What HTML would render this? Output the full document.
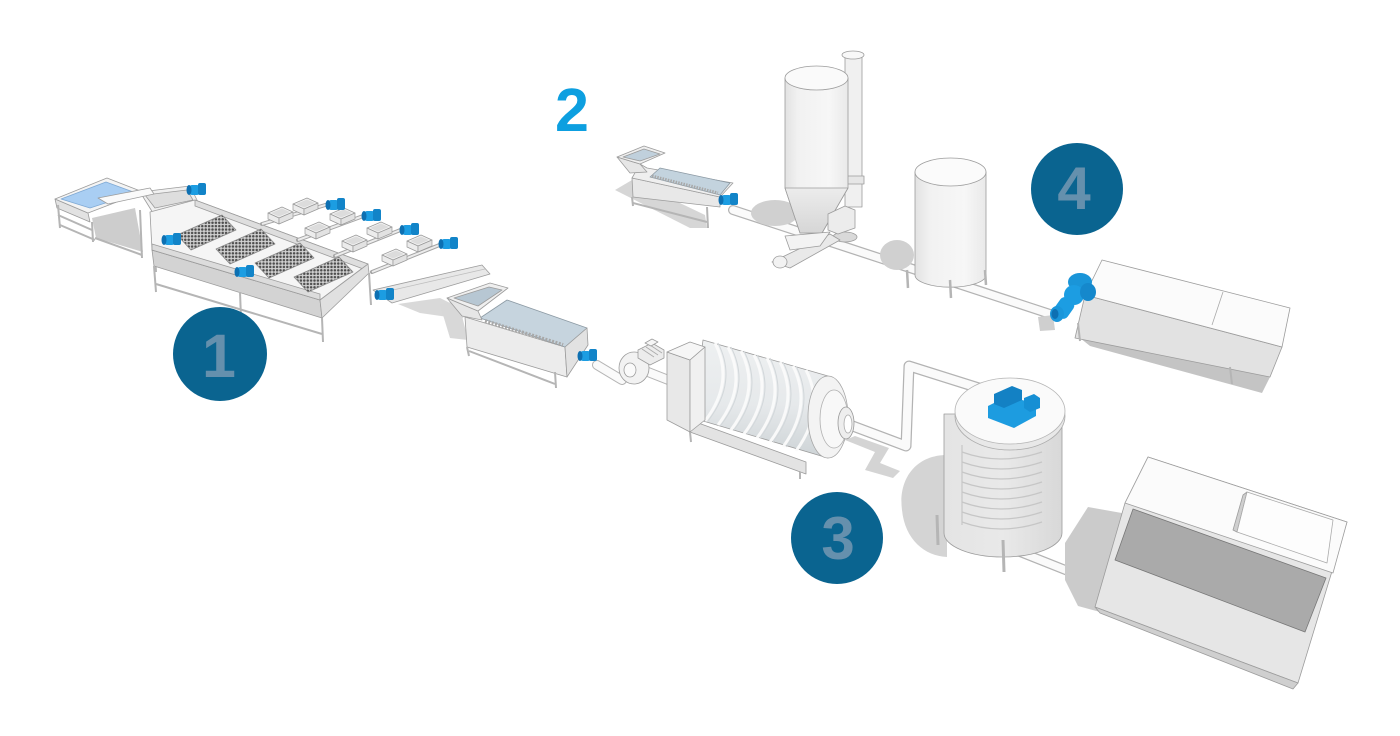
<!DOCTYPE html>
<html><head><meta charset="utf-8"><style>
html,body{margin:0;padding:0;background:#fff;}
svg{display:block;}
text{font-family:"Liberation Sans",sans-serif;font-weight:bold;}
</style></head><body>
<svg width="1400" height="736" viewBox="0 0 1400 736" xmlns="http://www.w3.org/2000/svg">
<defs>
<pattern id="dots" width="3.4" height="3.4" patternUnits="userSpaceOnUse"><rect width="3.4" height="3.4" fill="#d2d2d2"/><circle cx="1.7" cy="1.7" r="1.25" fill="#4d4d4d"/></pattern>
<linearGradient id="silo" x1="0" x2="1" y1="0" y2="0"><stop offset="0" stop-color="#e2e2e2"/><stop offset="0.2" stop-color="#f1f1f1"/><stop offset="0.7" stop-color="#f7f7f7"/><stop offset="1" stop-color="#e9e9e9"/></linearGradient>
<linearGradient id="cone" x1="0" x2="0" y1="0" y2="1"><stop offset="0" stop-color="#ececec"/><stop offset="1" stop-color="#d6d6d6"/></linearGradient>
<linearGradient id="drum" x1="0" x2="0" y1="0" y2="1"><stop offset="0" stop-color="#eef0f1"/><stop offset="0.55" stop-color="#e6e9eb"/><stop offset="1" stop-color="#cdd3d6"/></linearGradient>
<linearGradient id="tank" x1="0" x2="1" y1="0" y2="0"><stop offset="0" stop-color="#e4e4e4"/><stop offset="0.5" stop-color="#e9e9e9"/><stop offset="1" stop-color="#d8d8d8"/></linearGradient>
<g id="mot"><rect x="-8" y="-5" width="11" height="10" rx="3" fill="#1c9de2"/><rect x="1" y="-7" width="8" height="12" rx="2" fill="#1284c8"/><ellipse cx="-8" cy="0" rx="2.5" ry="5" fill="#0d70b2"/></g>
<g id="crate" stroke="#9a9a9a" stroke-width="0.7"><polygon points="0,6 14,0 25,5 11,11" fill="#f3f3f3"/><polygon points="3,6 14,1.5 22,5 11,9.5" fill="#dcdcdc" stroke="none"/><polygon points="0,6 11,11 11,17 0,12" fill="#ececec"/><polygon points="11,11 25,5 25,11 11,17" fill="#e2e2e2"/></g>
</defs>

<g stroke="#9c9c9c" stroke-width="0.8" stroke-linejoin="round">

<!-- ===== MACHINE 1 ===== -->
<polygon points="92,218 135,208 143,252 96,238" fill="#cdcdcd" stroke="none"/>
<polygon points="55,199 88,213 90,222 57,208" fill="#e2e2e2"/>
<polygon points="55,199 107,178 143,192 88,213" fill="#f4f4f4"/>
<polygon points="61,199 106,182 136,193 90,208" fill="#a9cef3" stroke="#7fa9d4"/>
<g stroke="#b5b5b5" stroke-width="2" fill="none">
<line x1="58" y1="205" x2="60" y2="228"/><line x1="92" y1="222" x2="93" y2="242"/><line x1="140" y1="210" x2="142" y2="258"/><line x1="153" y1="214" x2="156" y2="272"/>
<line x1="58" y1="215" x2="92" y2="230"/><line x1="60" y1="225" x2="95" y2="240"/><line x1="95" y1="238" x2="142" y2="255"/>
</g>
<polygon points="140,192 190,186 198,202 153,213" fill="#f0f0f0"/>
<polygon points="145,195 187,190 193,200 155,208" fill="#dedede"/>
<polygon points="98,198 150,188 154,194 108,204" fill="#fafafa"/>

<polygon points="152,250 320,300 322,318 154,266" fill="#d3d3d3"/>
<polygon points="150,212 195,200 368,264 320,300 152,250" fill="#f5f5f5"/>
<polygon points="152,244 320,294 320,300 152,250" fill="#dcdcdc"/>
<polygon points="195,200 368,264 366,270 195,206" fill="#dedede"/>
<polygon points="320,300 368,264 369,273 322,318" fill="#e0e0e0"/>
<polygon points="177,235 222,215 236,230 191,250" fill="url(#dots)" stroke="#888"/>
<polygon points="216,249 261,229 275,244 230,264" fill="url(#dots)" stroke="#888"/>
<polygon points="255,263 300,243 314,258 269,278" fill="url(#dots)" stroke="#888"/>
<polygon points="294,277 339,257 353,272 308,292" fill="url(#dots)" stroke="#888"/>
<g stroke="#b5b5b5" stroke-width="2" fill="none">
<line x1="154" y1="266" x2="156" y2="292"/><line x1="322" y1="318" x2="323" y2="342"/><line x1="240" y1="292" x2="241" y2="318"/><line x1="369" y1="273" x2="371" y2="305"/>
<line x1="156" y1="284" x2="322" y2="334"/>
</g>

<g stroke="#a5a5a5" stroke-width="4" fill="none" stroke-linecap="round">
<line x1="262" y1="224" x2="332" y2="203"/><line x1="298" y1="240" x2="366" y2="215"/><line x1="335" y1="256" x2="403" y2="229"/><line x1="372" y1="272" x2="442" y2="244"/>
</g>
<g stroke="#ececec" stroke-width="2" fill="none">
<line x1="262" y1="224" x2="332" y2="203"/><line x1="298" y1="240" x2="366" y2="215"/><line x1="335" y1="256" x2="403" y2="229"/><line x1="372" y1="272" x2="442" y2="244"/>
</g>
<use href="#crate" x="268" y="207"/><use href="#crate" x="293" y="198"/>
<use href="#crate" x="305" y="222"/><use href="#crate" x="330" y="208"/>
<use href="#crate" x="342" y="235"/><use href="#crate" x="367" y="222"/>
<use href="#crate" x="382" y="249"/><use href="#crate" x="407" y="235"/>

<polygon points="398,304 440,298 468,312 462,319 420,313" fill="#d9d9d9" stroke="none"/>
<polygon points="373,290 482,265 490,274 392,303" fill="#e8e8e8"/>
<line x1="380" y1="293" x2="485" y2="269" stroke="#bdbdbd"/>

<g stroke="none">
<use href="#mot" x="197" y="190"/><use href="#mot" x="172" y="240"/><use href="#mot" x="245" y="272"/><use href="#mot" x="385" y="295"/>
<use href="#mot" x="336" y="205"/><use href="#mot" x="372" y="216"/><use href="#mot" x="410" y="230"/><use href="#mot" x="449" y="244"/>
</g>

<!-- ===== WASHER 3a ===== -->
<polygon points="440,305 458,300 468,340 450,338" fill="#d8d8d8" stroke="none"/>
<polygon points="465,317 565,347 567,377 467,347" fill="#ececec"/>
<polygon points="480,318 507,300 587,328 565,347" fill="#c6d4de" stroke="#8c9aa4"/>
<line x1="485" y1="321" x2="563" y2="345" stroke="#a8a8a8" stroke-width="4" stroke-dasharray="2 1.5"/>
<polygon points="565,347 587,328 588,345 567,377" fill="#e2e2e2"/>
<polygon points="447,298 478,311 482,320 462,316" fill="#e6e6e6"/>
<polygon points="447,298 490,283 508,288 478,311" fill="#efefef"/>
<polygon points="454,298 489,287 502,290 478,306" fill="#b7c7d3"/>
<g stroke="#b5b5b5" stroke-width="2"><line x1="467" y1="347" x2="469" y2="356"/><line x1="555" y1="372" x2="556" y2="388"/><line x1="469" y1="351" x2="555" y2="384"/></g>

<g fill="none" stroke-linecap="round" stroke-linejoin="round">
<polyline points="597,365 622,380" stroke="#b5b5b5" stroke-width="10"/>
<polyline points="597,365 622,380" stroke="#fafafa" stroke-width="8"/>
<polyline points="648,372 676,383" stroke="#b5b5b5" stroke-width="10"/>
<polyline points="648,372 676,383" stroke="#fafafa" stroke-width="8"/>
</g>
<g stroke="none"><use href="#mot" x="588" y="356"/></g>
<ellipse cx="634" cy="368" rx="15" ry="16" fill="#f2f2f2"/>
<ellipse cx="630" cy="370" rx="6" ry="7" fill="#fafafa"/>
<polygon points="638,350 652,343 664,350 664,358 650,365 638,358" fill="#ececec"/>
<line x1="642" y1="349" x2="654" y2="357" stroke="#aaa"/><line x1="646" y1="347" x2="658" y2="355" stroke="#aaa"/><line x1="650" y1="345" x2="662" y2="353" stroke="#aaa"/>
<polygon points="645,343 652,339 658,342 651,346" fill="#f6f6f6"/>

<!-- ===== DRUM 3 ===== -->
<polygon points="845,440 875,452 865,470 893,478 900,471 880,463 889,448 855,436" fill="#d4d4d4" stroke="none"/>
<polygon points="690,420 806,462 806,474 690,432" fill="#e3e3e3"/>
<g stroke="#b5b5b5" stroke-width="2"><line x1="690" y1="432" x2="691" y2="442"/><line x1="800" y1="472" x2="800" y2="479"/></g>
<polygon points="703,340 828,376 828,458 693,418" fill="url(#drum)"/>
<g fill="none" stroke="#fbfbfb" stroke-width="3" opacity="0.95">
<path d="M715,343 Q735,382 705,421"/><path d="M728,347 Q748,386 718,425"/><path d="M741,351 Q761,390 731,430"/><path d="M754,355 Q774,394 744,434"/><path d="M767,358 Q787,398 757,438"/><path d="M780,362 Q800,402 770,442"/><path d="M793,366 Q813,406 783,447"/><path d="M806,370 Q826,410 796,451"/>
</g>
<g fill="none" stroke="#d2d7da" stroke-width="1">
<path d="M718,343 Q738,382 708,421"/><path d="M731,347 Q751,386 721,425"/><path d="M744,351 Q764,390 734,430"/><path d="M757,355 Q777,394 747,434"/><path d="M770,358 Q790,398 760,438"/><path d="M783,362 Q803,402 773,442"/><path d="M796,366 Q816,406 786,447"/>
</g>
<ellipse cx="828" cy="417" rx="20" ry="41" fill="#f3f3f3" stroke="#a5a5a5"/>
<ellipse cx="834" cy="419" rx="14" ry="29" fill="#f8f8f8" stroke="#b0b0b0"/>
<polygon points="667,352 690,360 690,432 667,420" fill="#e8e8e8"/>
<polygon points="667,352 690,342 705,347 690,360" fill="#f6f6f6"/>
<polygon points="690,360 705,347 705,420 690,432" fill="#f0f0f0"/>

<g fill="none" stroke-linecap="round" stroke-linejoin="round">
<polyline points="850,425 906,446 909,366 982,389 982,396" stroke="#b3b3b3" stroke-width="11"/>
<polyline points="850,425 906,446 909,366 982,389 982,396" stroke="#fafafa" stroke-width="8.5"/>
</g>
<ellipse cx="846" cy="423" rx="8" ry="16" fill="#eee" stroke="#999"/>
<ellipse cx="848" cy="424" rx="4" ry="9" fill="#fff" stroke="#aaa"/>

<!-- ===== TANK 3b ===== -->
<path d="M947,455 C915,455 898,480 902,510 C905,540 925,556 947,557 Z" fill="#d4d4d4" stroke="none"/>
<g fill="none" stroke-linecap="round"><polyline points="1010,548 1078,575" stroke="#b3b3b3" stroke-width="10"/><polyline points="1010,548 1078,575" stroke="#fafafa" stroke-width="7.5"/></g>
<path d="M944,414 L944,533 A59,24 0 0 0 1062,533 L1062,414 Z" fill="url(#tank)"/>
<g fill="none" stroke="#c6c6c6" stroke-width="1.2">
<path d="M962,452 Q1000,466 1042,452"/><path d="M962,462 Q1000,476 1042,462"/><path d="M962,472 Q1000,486 1042,472"/><path d="M962,482 Q1000,496 1042,482"/><path d="M962,492 Q1000,506 1042,492"/><path d="M962,502 Q1000,516 1042,502"/><path d="M962,512 Q1000,526 1042,512"/><path d="M962,522 Q1000,536 1042,522"/>
<line x1="962" y1="445" x2="962" y2="525"/>
</g>
<g stroke="#b5b5b5" stroke-width="3"><line x1="937" y1="515" x2="938" y2="545"/><line x1="1003" y1="540" x2="1004" y2="572"/></g>
<ellipse cx="1010" cy="416" rx="55" ry="34" fill="#e8e8e8" stroke="#aaa"/>
<ellipse cx="1010" cy="411" rx="55" ry="33" fill="#fafafa" stroke="#b5b5b5"/>
<polygon points="988,406 1008,396 1036,404 1036,416 1014,428 988,418" fill="#1d9ce0" stroke="none"/>
<polygon points="994,394 1012,386 1022,390 1022,400 1004,408 994,404" fill="#1381c4" stroke="none"/>
<polygon points="1024,398 1034,394 1040,398 1040,408 1030,412 1024,408" fill="#168fd4" stroke="none"/>

<!-- ===== BOTTOM-RIGHT MACHINE ===== -->
<polygon points="1065,543 1088,507 1133,515 1100,612 1078,606 1065,580" fill="#cbcbcb" stroke="none"/>
<polygon points="1148,457 1347,522 1298,683 1095,607 1125,503" fill="#e6e6e6"/>
<polygon points="1125,503 1148,457 1347,522 1333,573" fill="#fbfbfb"/>
<polygon points="1133,509 1326,578 1305,632 1115,560" fill="#aaaaaa" stroke="#777"/>
<polygon points="1095,607 1298,683 1293,689 1100,613" fill="#cfcfcf"/>
<polygon points="1237,532 1247,492 1243,495 1233,530" fill="#cfcfcf"/>
<polygon points="1247,492 1333,520 1327,563 1237,532" fill="#fdfdfd" stroke="#aaa"/>

<!-- ===== MACHINE 2 ===== -->
<polygon points="615,190 632,180 705,215 707,228 690,228" fill="#d6d6d6" stroke="none"/>
<polygon points="632,178 720,197 720,207 633,197" fill="#e8e8e8"/>
<polygon points="640,164 647,168 733,183 720,197 632,178" fill="#efefef"/>
<polygon points="660,168 730,183 720,195 650,177" fill="#c3d3de" stroke="#8c9aa4"/>
<line x1="652" y1="176" x2="718" y2="193" stroke="#a8a8a8" stroke-width="3" stroke-dasharray="1.5 1.2"/>
<polygon points="617,157 640,164 647,172 630,173" fill="#e6e6e6"/>
<polygon points="617,157 644,146 665,153 640,164" fill="#efefef"/>
<polygon points="623,157 644,149 660,154 640,161" fill="#c0d0dc"/>
<g stroke="#b5b5b5" stroke-width="2"><line x1="632" y1="197" x2="633" y2="206"/><line x1="707" y1="207" x2="708" y2="228"/><line x1="633" y1="203" x2="707" y2="222"/></g>

<g fill="none" stroke-linecap="round"><polyline points="733,210 1050,314" stroke="#b3b3b3" stroke-width="10"/><polyline points="733,210 1050,314" stroke="#fafafa" stroke-width="7.5"/></g>
<g stroke="none"><use href="#mot" x="729" y="200"/></g>

<!-- silo 1 -->
<ellipse cx="775" cy="213" rx="24" ry="13" fill="#d0d0d0" stroke="none"/>
<rect x="845" y="55" width="17" height="152" fill="#f0f0f0"/>
<ellipse cx="853" cy="55" rx="11" ry="4" fill="#f8f8f8"/>
<rect x="843" y="176" width="21" height="8" fill="#e6e6e6"/>
<path d="M785,78 L785,188 L800,233 L822,233 L848,188 L848,78 Z" fill="url(#silo)"/>
<path d="M785,188 L800,233 L822,233 L848,188 Z" fill="url(#cone)"/>
<ellipse cx="816.5" cy="78" rx="31.5" ry="12" fill="#fafafa"/>
<ellipse cx="845" cy="237" rx="12" ry="5" fill="#d9d9d9"/>
<polygon points="828,214 845,206 855,210 855,228 838,234 828,230" fill="#ececec"/>
<polygon points="772,262 830,234 840,240 790,268" fill="#e9e9e9"/>
<polygon points="785,236 830,232 820,246 790,250" fill="#f3f3f3"/>
<ellipse cx="780" cy="262" rx="7" ry="6" fill="#f2f2f2"/>

<!-- silo 2 -->
<ellipse cx="897" cy="255" rx="17" ry="15" fill="#d0d0d0" stroke="none"/>
<path d="M915,172 L915,275 A35,12 0 0 0 986,275 L986,172 Z" fill="url(#silo)"/>
<ellipse cx="950.5" cy="172" rx="35.5" ry="14" fill="#fbfbfb"/>
<g stroke="#b5b5b5" stroke-width="2.5"><line x1="907" y1="270" x2="908" y2="288"/><line x1="950" y1="280" x2="951" y2="298"/><line x1="985" y1="270" x2="986" y2="285"/></g>

<!-- ===== MACHINE 4 ===== -->
<polygon points="1038,317 1053,315 1055,330 1040,331" fill="#cfcfcf" stroke="none"/>
<polygon points="1080,338 1270,377 1262,393 1090,346" fill="#c4c4c4" stroke="none"/>
<polygon points="1085,295 1282,347 1270,377 1075,338" fill="#e2e2e2"/>
<polygon points="1085,295 1102,260 1290,308 1282,347" fill="#fbfbfb"/>
<line x1="1223" y1="292" x2="1212" y2="325" stroke="#aaa"/>
<g stroke="#b5b5b5" stroke-width="2"><line x1="1230" y1="367" x2="1232" y2="384"/><line x1="1078" y1="323" x2="1080" y2="341"/></g>
<g stroke="none">
<ellipse cx="1080" cy="282" rx="12" ry="9" fill="#1a95d8"/>
<ellipse cx="1074" cy="295" rx="10" ry="10" fill="#1c9de2"/>
<ellipse cx="1088" cy="292" rx="8" ry="9" fill="#1588cc"/>
<rect x="1056" y="298" width="16" height="20" rx="5" fill="#1c9de2" transform="rotate(35 1064 308)"/>
<ellipse cx="1057" cy="314" rx="7" ry="8" fill="#1a96da"/>
<ellipse cx="1055" cy="314" rx="3.5" ry="5" fill="#0d70b2"/>
</g>

</g>

<!-- ===== NUMBER BADGES ===== -->
<circle cx="220" cy="354" r="47" fill="#0a6490"/>
<text x="219" y="377" font-size="61" fill="#6590ad" text-anchor="middle">1</text>
<circle cx="837" cy="538" r="46" fill="#0a6490"/>
<text x="838" y="559" font-size="60" fill="#6590ad" text-anchor="middle">3</text>
<circle cx="1077" cy="189" r="46" fill="#0a6490"/>
<text x="1074" y="209" font-size="60" fill="#6590ad" text-anchor="middle">4</text>
<text x="572" y="131" font-size="61" fill="#0d9fe0" text-anchor="middle">2</text>
</svg>
</body></html>
